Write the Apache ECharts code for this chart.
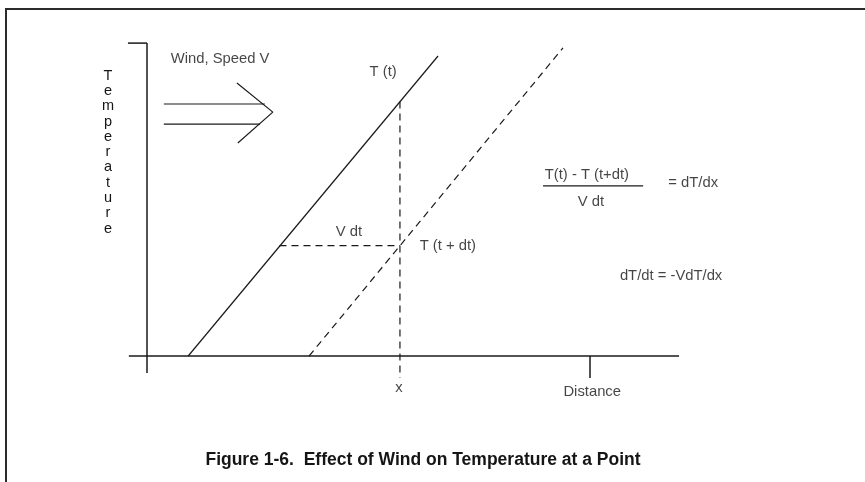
<!DOCTYPE html>
<html>
<head>
<meta charset="utf-8">
<script src="https://cdn.jsdelivr.net/npm/echarts@6/dist/echarts.min.js"></script>
<style>
  html, body { margin: 0; padding: 0; background: #fff; overflow: hidden; }
  #frame { position: absolute; left: 5px; top: 8px; width: 900px; height: 520px;
           border-top: 2px solid #2b2b2b; border-left: 2px solid #2b2b2b; }
  #chart { position: absolute; left: 0; top: 0; width: 865px; height: 482px; }
</style>
</head>
<body>
<div id="frame"></div>
<div id="chart"></div>
<script>
// Diagram values in data units (Distance 0..100, Temperature 0..100)
const solidLine       = [[9.3, 0], [65.7, 100]];        // T(t)
const shiftedLine     = [[36.6, 0], [93.9, 102.7]];     // T(t+dt)
const verticalAtX     = [[57.1, 84.8], [57.1, -7.3]];
const vdtLine         = [[29.9, 36.8], [57.1, 36.8]];
const windArrowTop    = [[3.8, 84], [26.6, 84]];
const windArrowBottom = [[3.8, 77.3], [25.5, 77.3]];
const windArrowHead   = [[20.3, 91], [28.4, 81.3], [20.5, 71]];
const axisXLine       = [[-4.1, 0], [120.1, 0]];
const axisYLine       = [[0, -5.7], [0, 104.3]];
const axisYTopTick    = [[-4.3, 104.3], [0, 104.3]];
const distanceTick    = [[100, 0], [100, -7.3]];
const fractionBar     = [[89.4, 56.7], [112, 56.7]];

const labelTexts = ['Wind, Speed V', 'T (t)', 'V dt', 'T (t + dt)', 'x', 'Distance',
                    'T(t) - T (t+dt)', 'V dt', '= dT/dx', 'dT/dt = -VdT/dx'];
const labelPos   = [[16.5, 99], [53.3, 94.7], [45.6, 41.3], [67.9, 36.7], [56.9, -10.7], [100.5, -12],
                    [99.3, 60.3], [100.2, 51.3], [123.3, 57.7], [118.3, 26.7]];
const yAxisTitle = 'Temperature';
const figureTitle = 'Figure 1-6.  Effect of Wind on Temperature at a Point';

const ink = '#1a1a1a';
function seg(data, opts) {
  opts = opts || {};
  return {
    type: 'line', data: data, symbol: 'none', clip: false, silent: true,
    lineStyle: { color: ink, width: opts.width || 1.2, type: opts.dash ? [7, 5] : 'solid' },
    animation: false
  };
}

const chart = echarts.init(document.getElementById('chart'), null, { renderer: 'canvas' });
chart.setOption({
  backgroundColor: 'transparent',
  animation: false,
  // 4.43 px per Distance unit, 3 px per Temperature unit; origin at (147, 356)
  grid: { left: 102.7, top: 26, width: 620.2, height: 375 },
  xAxis: { type: 'value', min: -10, max: 130, show: false },
  yAxis: { type: 'value', min: -15, max: 110, show: false },
  series: [
    seg(axisXLine, { width: 1.5 }),
    seg(axisYLine, { width: 1.5 }),
    seg(axisYTopTick, { width: 1.5 }),
    seg(distanceTick, { width: 1.5 }),
    seg(solidLine),
    seg(shiftedLine, { dash: true }),
    seg(verticalAtX, { dash: true }),
    seg(vdtLine, { dash: true }),
    seg(windArrowTop),
    seg(windArrowBottom),
    seg(windArrowHead),
    seg(fractionBar),
    {
      type: 'scatter', silent: true, symbolSize: 1, clip: false,
      itemStyle: { color: 'rgba(0,0,0,0)' },
      data: labelPos.map((p, i) => ({ value: p, name: labelTexts[i] })),
      label: {
        show: true, position: 'inside', formatter: p => p.name,
        color: '#151515', fontFamily: 'Liberation Sans, Arial, sans-serif', fontSize: 14.8
      }
    }
  ],
  graphic: [
    {
      type: 'text', x: 108, y: 68,
      style: {
        text: yAxisTitle.split('').join('\n'), fill: '#151515', align: 'center',
        font: '14.5px "Liberation Sans", Arial, sans-serif', lineHeight: 15.3
      }
    },
    {
      type: 'text', x: 423, y: 460,
      style: {
        text: figureTitle, fill: '#151515', align: 'center', verticalAlign: 'middle',
        font: 'bold 17.5px "Liberation Sans", Arial, sans-serif'
      }
    }
  ]
});
</script>
</body>
</html>
